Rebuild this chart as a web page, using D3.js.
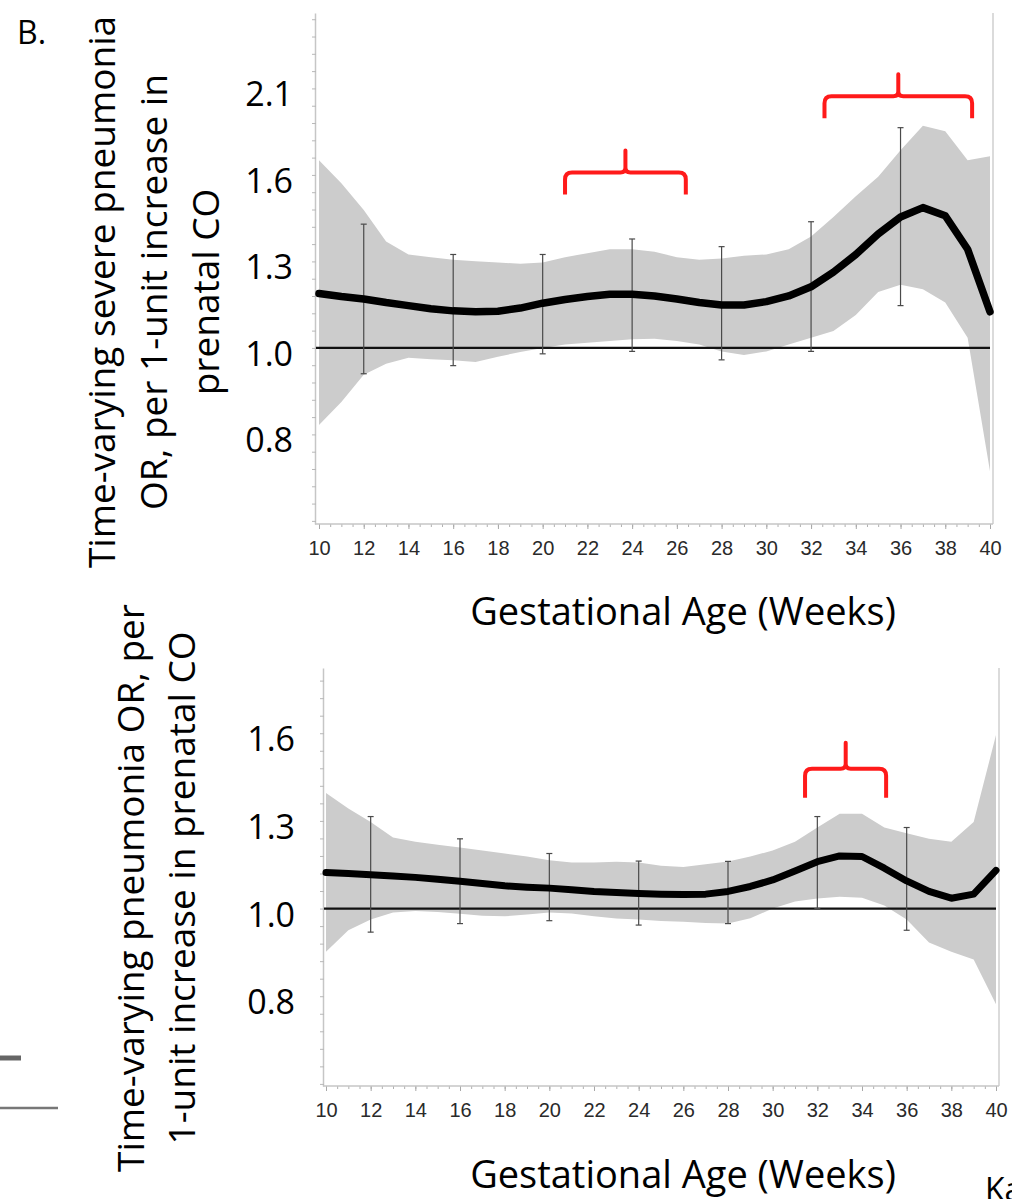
<!DOCTYPE html>
<html>
<head>
<meta charset="utf-8">
<script src="https://cdn.jsdelivr.net/npm/d3@7"></script>
<style>
  body { margin: 0; background: #fff; }
  svg { display: block; }
</style>
</head>
<body>
<svg id="fig" width="1012" height="1199"></svg>
<script>
// ---------- data (odds ratios per gestational week) ----------
const weeks = d3.range(10, 41);

// Panel 1: severe pneumonia
const severeOR = [1.17, 1.16, 1.152, 1.14, 1.13, 1.12, 1.113, 1.11, 1.112, 1.122,
  1.138, 1.15, 1.16, 1.168, 1.168, 1.162, 1.152, 1.14, 1.132, 1.132,
  1.143, 1.162, 1.193, 1.245, 1.31, 1.39, 1.46, 1.50, 1.465, 1.33, 1.11];
const severeUpper = [1.72, 1.61, 1.49, 1.36, 1.31, 1.30, 1.29, 1.285, 1.28, 1.275,
  1.28, 1.30, 1.315, 1.33, 1.33, 1.32, 1.30, 1.29, 1.295, 1.305,
  1.31, 1.33, 1.38, 1.46, 1.55, 1.64, 1.77, 1.90, 1.87, 1.72, 1.74];
const severeLower = [0.80, 0.855, 0.925, 0.955, 0.972, 0.968, 0.965, 0.96, 0.975, 0.988,
  1.0, 1.01, 1.015, 1.02, 1.025, 1.027, 1.02, 1.01, 0.99, 0.98,
  0.99, 1.01, 1.03, 1.05, 1.10, 1.175, 1.20, 1.185, 1.14, 1.03, 0.70];
const severeBarWeeks = [12, 16, 20, 24, 28, 32, 36];
const severeBarLow = [0.928, 0.95, 0.983, 0.99, 0.966, 0.99, 1.13];
const severeBarHigh = [1.43, 1.31, 1.31, 1.37, 1.34, 1.44, 1.89];
const severeBraces = [
  { from: 21.0, peak: 23.7, to: 26.4, level: 1.66 },
  { from: 32.6, peak: 35.9, to: 39.2, level: 2.07 }
];

// Panel 2: pneumonia
const pneuOR = [1.108, 1.105, 1.101, 1.097, 1.093, 1.087, 1.081, 1.074, 1.067, 1.063,
  1.06, 1.055, 1.05, 1.047, 1.044, 1.042, 1.041, 1.042, 1.05, 1.065,
  1.085, 1.113, 1.143, 1.162, 1.16, 1.122, 1.082, 1.05, 1.03, 1.042, 1.115];
const pneuUpper = [1.39, 1.33, 1.28, 1.225, 1.21, 1.20, 1.19, 1.18, 1.17, 1.16,
  1.148, 1.14, 1.14, 1.143, 1.14, 1.13, 1.126, 1.135, 1.144, 1.16,
  1.18, 1.21, 1.26, 1.31, 1.31, 1.26, 1.24, 1.22, 1.21, 1.28, 1.64];
const pneuLower = [0.884, 0.94, 0.969, 0.989, 0.993, 0.99, 0.985, 0.98, 0.978, 0.983,
  0.989, 0.986, 0.978, 0.972, 0.969, 0.965, 0.963, 0.96, 0.958, 0.973,
  1.0, 1.02, 1.029, 1.034, 1.031, 1.009, 0.969, 0.908, 0.884, 0.865, 0.761];
const pneuBarWeeks = [12, 16, 20, 24, 28, 32, 36];
const pneuBarLow = [0.935, 0.958, 0.966, 0.954, 0.958, 1.0, 0.94];
const pneuBarHigh = [1.30, 1.22, 1.17, 1.145, 1.144, 1.30, 1.26];
const pneuBraces = [
  { from: 31.45, peak: 33.27, to: 35.08, level: 1.49 }
];

// Ticks: log-odds every 0.25, labelled with the rounded odds ratio
const orTickLogs = [-0.25, 0, 0.25, 0.5, 0.75];
const orTickLabels = ["0.8", "1.0", "1.3", "1.6", "2.1"];
const weekTickValues = d3.range(10, 41, 2);
const xTitle = "Gestational Age (Weeks)";

// ---------- drawing ----------
const svg = d3.select("#fig");
const TITLE_FONT = "'Open Sans', 'DejaVu Sans', sans-serif";
const TICK_FONT = "'Liberation Sans', Arial, sans-serif";

function drawPanel(cfg) {
  const g = svg.append("g");
  const x = d3.scaleLinear().domain([10, 40]).range([cfg.x10, cfg.x40]);
  const y = d3.scaleLog()
    .domain([Math.exp(cfg.logMin), Math.exp(cfg.logMax)])
    .range([cfg.bottom, cfg.top]);

  const rows = weeks.map((w, i) => ({ w, or: cfg.or[i], lo: cfg.lower[i], hi: cfg.upper[i] }));

  // frame: left axis via d3 axis, right edge and baseline
  const minorLogs = d3.range(Math.ceil(cfg.logMin / 0.05), Math.floor(cfg.logMax / 0.05) + 1)
    .map(k => Math.exp(k * 0.05));
  const yAxis = g.append("g")
    .attr("transform", `translate(${cfg.left},0)`)
    .call(d3.axisLeft(y).tickValues(minorLogs).tickSize(3).tickSizeOuter(0).tickFormat(""));
  yAxis.select(".domain").attr("stroke", "#c6c6c6").attr("stroke-width", 1.5);
  yAxis.selectAll(".tick line").attr("stroke", "#b8b8b8").attr("x2", -3).attr("x1", 1);

  g.append("line")
    .attr("x1", cfg.right).attr("x2", cfg.right)
    .attr("y1", cfg.top).attr("y2", cfg.bottom)
    .attr("stroke", "#cfcfcf").attr("stroke-width", 1.5);

  const xMinor = g.append("g")
    .attr("transform", `translate(0,${cfg.bottom})`)
    .call(d3.axisBottom(x).tickValues(d3.range(10, 40.01, 0.5)).tickSize(3).tickFormat(""));
  xMinor.select(".domain").remove();
  xMinor.selectAll(".tick line").attr("stroke", "#b0b0b0");

  const xMajor = g.append("g")
    .attr("transform", `translate(0,${cfg.bottom})`)
    .call(d3.axisBottom(x).tickValues(weekTickValues).tickSize(5).tickPadding(12).tickFormat(d3.format("d")));
  xMajor.select(".domain").remove();
  xMajor.selectAll(".tick line").attr("stroke", "#a8a8a8");
  xMajor.selectAll(".tick text")
    .attr("font-family", TICK_FONT).attr("font-size", 20).attr("fill", "#2a2a2a");

  g.append("line")
    .attr("x1", cfg.left).attr("x2", cfg.right)
    .attr("y1", cfg.bottom).attr("y2", cfg.bottom)
    .attr("stroke", "#c6c6c6").attr("stroke-width", 1.5);

  // y tick labels
  orTickLogs.forEach((lv, i) => {
    if (lv < cfg.logMin || lv > cfg.logMax) return;
    g.append("text")
      .attr("x", cfg.labelRight)
      .attr("y", y(Math.exp(lv)) + 18)
      .attr("text-anchor", "end")
      .attr("font-family", TITLE_FONT).attr("font-size", 34).attr("fill", "#000")
      .text(orTickLabels[i]);
  });

  // confidence band
  g.append("path")
    .datum(rows)
    .attr("fill", "#cccccc")
    .attr("d", d3.area().x(d => x(d.w)).y0(d => y(d.lo)).y1(d => y(d.hi)));

  // reference line at OR = 1
  g.append("line")
    .attr("x1", cfg.left + 1).attr("x2", x(40))
    .attr("y1", y(1)).attr("y2", y(1))
    .attr("stroke", "#111").attr("stroke-width", 2.2);

  // error bars
  const bars = cfg.barWeeks.map((w, i) => ({ w, lo: cfg.barLow[i], hi: cfg.barHigh[i] }));
  const eb = g.append("g").attr("stroke", "#4a4a4a").attr("stroke-width", 1.2);
  eb.selectAll("line.v").data(bars).join("line").attr("class", "v")
    .attr("x1", d => x(d.w)).attr("x2", d => x(d.w))
    .attr("y1", d => y(d.lo)).attr("y2", d => y(d.hi));
  eb.selectAll("line.t").data(bars).join("line").attr("class", "t")
    .attr("x1", d => x(d.w) - 3).attr("x2", d => x(d.w) + 3)
    .attr("y1", d => y(d.hi)).attr("y2", d => y(d.hi));
  eb.selectAll("line.b").data(bars).join("line").attr("class", "b")
    .attr("x1", d => x(d.w) - 3).attr("x2", d => x(d.w) + 3)
    .attr("y1", d => y(d.lo)).attr("y2", d => y(d.lo));

  // estimate curve
  g.append("path")
    .datum(rows)
    .attr("fill", "none")
    .attr("stroke", "#000")
    .attr("stroke-width", cfg.lineWidth)
    .attr("stroke-linejoin", "round")
    .attr("stroke-linecap", "round")
    .attr("d", d3.line().x(d => x(d.w)).y(d => y(d.or)));

  // red braces marking windows of elevated risk
  cfg.braces.forEach(b => {
    const x0 = x(b.from), x1 = x(b.to), xc = x(b.peak), yb = y(b.level);
    const yEnd = yb + cfg.braceDrop, yTop = yb - cfg.braceRise, r = 7, s = 5;
    const p = d3.path();
    p.moveTo(x0, yEnd);
    p.lineTo(x0, yb + r);
    p.quadraticCurveTo(x0, yb, x0 + r, yb);
    p.lineTo(xc - s, yb);
    p.quadraticCurveTo(xc, yb, xc, yb - s);
    p.lineTo(xc, yTop);
    p.lineTo(xc, yb - s);
    p.quadraticCurveTo(xc, yb, xc + s, yb);
    p.lineTo(x1 - r, yb);
    p.quadraticCurveTo(x1, yb, x1, yb + r);
    p.lineTo(x1, yEnd);
    g.append("path")
      .attr("d", p.toString())
      .attr("fill", "none")
      .attr("stroke", "#ff1a1a")
      .attr("stroke-width", 4)
      .attr("stroke-linejoin", "round");
  });

  // x-axis title
  g.append("text")
    .attr("x", 683).attr("y", cfg.xTitleY)
    .attr("text-anchor", "middle")
    .attr("font-family", TITLE_FONT).attr("font-size", 38).attr("fill", "#000")
    .text(xTitle);

  // y-axis title (rotated, multi-line)
  cfg.yTitle.forEach((line, i) => {
    g.append("text")
      .attr("transform", `translate(${cfg.yTitleX[i]},${cfg.yTitleCenter}) rotate(-90)`)
      .attr("text-anchor", "middle")
      .attr("font-family", TITLE_FONT).attr("font-size", 37).attr("fill", "#000")
      .text(line);
  });
}

drawPanel({
  left: 315, right: 993, top: 13, bottom: 524,
  x10: 319, x40: 990,
  logMin: -0.509, logMax: 0.968,
  labelRight: 293,
  or: severeOR, upper: severeUpper, lower: severeLower,
  barWeeks: severeBarWeeks, barLow: severeBarLow, barHigh: severeBarHigh,
  braces: severeBraces, braceDrop: 22, braceRise: 22,
  lineWidth: 7.5,
  xTitleY: 625,
  yTitle: ["Time-varying severe pneumonia", "OR, per 1-unit increase in", "prenatal CO"],
  yTitleX: [115, 167, 219], yTitleCenter: 292
});

drawPanel({
  left: 323, right: 999, top: 668, bottom: 1086,
  x10: 326, x40: 996,
  logMin: -0.506, logMax: 0.686,
  labelRight: 295,
  or: pneuOR, upper: pneuUpper, lower: pneuLower,
  barWeeks: pneuBarWeeks, barLow: pneuBarLow, barHigh: pneuBarHigh,
  braces: pneuBraces, braceDrop: 29, braceRise: 26,
  lineWidth: 7,
  xTitleY: 1188,
  yTitle: ["Time-varying pneumonia OR, per", "1-unit increase in prenatal CO"],
  yTitleX: [144, 195], yTitleCenter: 888
});

// panel letter and stray page elements
svg.append("text")
  .attr("x", 17).attr("y", 44)
  .attr("font-family", TITLE_FONT).attr("font-size", 32).attr("fill", "#000")
  .text("B.");

svg.append("text")
  .attr("x", 985).attr("y", 1201)
  .attr("font-family", TITLE_FONT).attr("font-size", 32).attr("fill", "#000")
  .text("Ka");

svg.append("line")
  .attr("x1", 0).attr("x2", 21).attr("y1", 1058).attr("y2", 1058)
  .attr("stroke", "#666").attr("stroke-width", 5);
svg.append("line")
  .attr("x1", 0).attr("x2", 58).attr("y1", 1108).attr("y2", 1108)
  .attr("stroke", "#777").attr("stroke-width", 2.5);
</script>
</body>
</html>
